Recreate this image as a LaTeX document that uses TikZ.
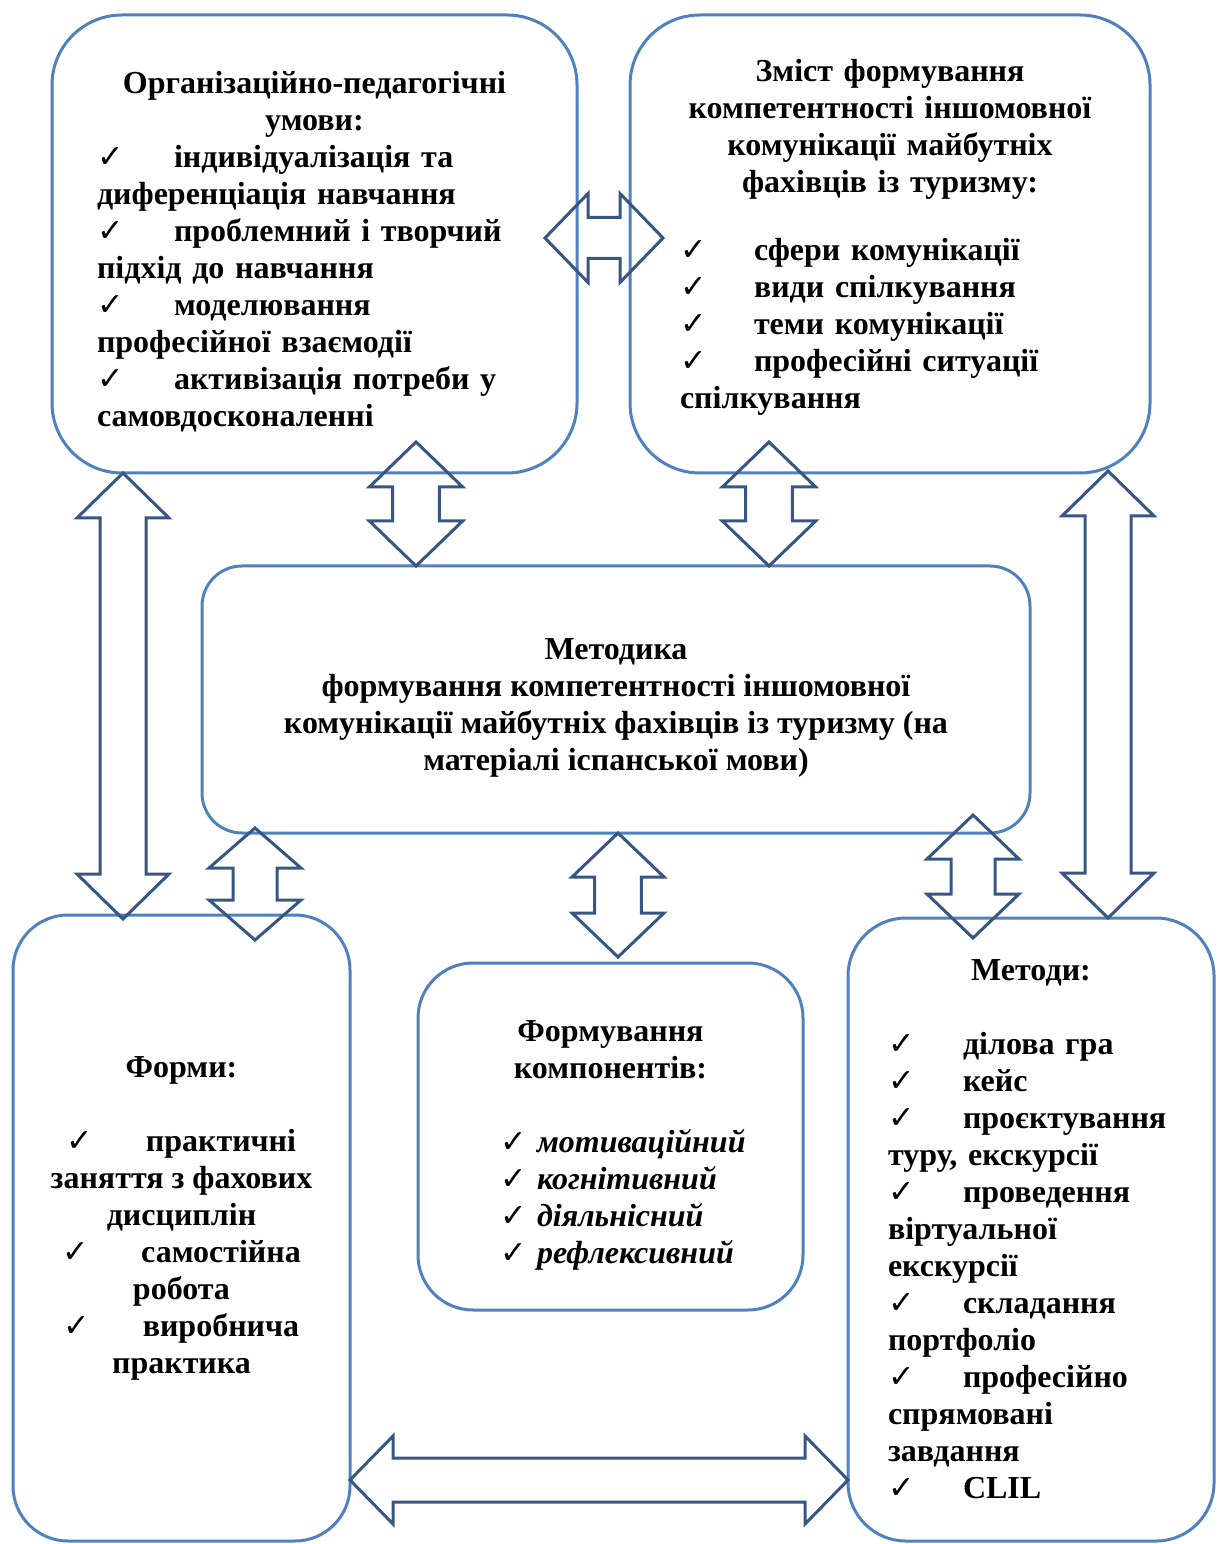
\documentclass[tikz,border=0pt]{standalone}
\usepackage{fontspec}
\setmainfont{Liberation Serif}
\newfontfamily\checkfont{DejaVu Sans}
\usepackage{xcolor}
\usepackage{tikz}
\usetikzlibrary{calc,positioning}

\definecolor{boxblue}{RGB}{79,129,189}
\definecolor{arrowblue}{RGB}{56,86,130}

\newcommand{\chk}[1][22.8pt]{\makebox[#1][l]{\checkfont\fontsize{9.5}{9.5}\selectfont ✓}}
%% hollow double block arrow: from, to, head length, head half width, shaft half width
\newcommand{\dblarrow}[5]{%
  \draw [blockarrow] (#1)
    -- ($(#1)!#3!(#2)!#4!90:(#2)$) -- ($(#1)!#3!(#2)!#5!90:(#2)$)
    -- ($(#2)!#3!(#1)!#5!-90:(#1)$) -- ($(#2)!#3!(#1)!#4!-90:(#1)$)
    -- (#2)
    -- ($(#2)!#3!(#1)!#4!90:(#1)$) -- ($(#2)!#3!(#1)!#5!90:(#1)$)
    -- ($(#1)!#3!(#2)!#5!-90:(#2)$) -- ($(#1)!#3!(#2)!#4!-90:(#2)$)
    -- cycle;}

\begin{document}
\begin{tikzpicture} [x=0.3pt, y=-0.3pt,
       infobox/.style 2 args = {rectangle, minimum width=#1*0.3pt, minimum height=#2*0.3pt,
                                line width=0.9pt, draw=boxblue, fill=white, inner sep=0pt, outer sep=0pt,
                                font=\fontsize{9.6}{11.1}\selectfont\bfseries},
       blockarrow/.style = {draw=arrowblue, line width=0.9pt, line join=miter, sharp corners}]
	\useasboundingbox (0,0) rectangle (1219,1544);
	%% Boxes
	\node [infobox={525}{458}, rounded corners=21pt, text width=130.5pt, align=left] (org) at (314.5,244)
	      {{\centering \rule{0pt}{11.2pt}Організаційно-педагогічні\\умови:\par}
	       \chk[23.1pt]індивідуалізація та\\
	       диференціація навчання\\
	       \chk[23.1pt]проблемний і творчий\\
	       підхід до навчання\\
	       \chk[23.1pt]моделювання\\
	       професійної взаємодії\\
	       \chk[23.1pt]активізація потреби у\\
	       самовдосконаленні};
	\node [infobox={520}{458}, rounded corners=21pt, text width=126pt, align=left,
	       right=15.9pt of org] (content)
	      {{\centering Зміст формування\\компетентності іншомовної\\комунікації майбутніх\\фахівців із туризму:\par}
	       \vspace{9.3pt}
	       \chk[22.2pt]сфери комунікації\\
	       \chk[22.2pt]види спілкування\\
	       \chk[22.2pt]теми комунікації\\
	       \chk[22.2pt]професійні ситуації\\
	       спілкування\rule[-5.8pt]{0pt}{0pt}};
	\node [infobox={828}{267}, rounded corners=12pt, align=center] (method) at (616,699.5)
	      {\rule{0pt}{11.6pt}Методика\\
	       формування компетентності іншомовної\\
	       комунікації майбутніх фахівців із туризму (на\\
	       матеріалі іспанської мови)};
	\node [infobox={337}{626}, rounded corners=16.5pt, align=center] (forms) at (181.5,1228)
	      {Форми:\\[11.1pt]
	       \chk[23.7pt]практичні\\
	       заняття з фахових\\
	       дисциплін\\
	       \chk[23.7pt]самостійна\\
	       робота\\
	       \chk[23.7pt]виробнича\\
	       практика\rule[-7.5pt]{0pt}{0pt}};
	\node [infobox={385}{347}, rounded corners=16.5pt, text width=66.3pt, align=left] (comps) at (610.5,1136.5)
	      {{\centering \rule{0pt}{11.8pt}Формування\\компонентів:\par}
	       \vspace{11.1pt}
	       \chk[11.1pt]\textit{мотиваційний}\\
	       \chk[11.1pt]\textit{когнітивний}\\
	       \chk[11.1pt]\textit{діяльнісний}\\
	       \chk[11.1pt]\textit{рефлексивний}};
	\node [infobox={366}{623}, rounded corners=17.4pt, text width=85.8pt, align=left] (methods) at (1031,1229.5)
	      {{\centering Методи:\par}
	       \vspace{11.1pt}
	       \chk[22.5pt]ділова гра\\
	       \chk[22.5pt]кейс\\
	       \chk[22.5pt]проєктування\\
	       туру, екскурсії\\
	       \chk[22.5pt]проведення\\
	       віртуальної\\
	       екскурсії\\
	       \chk[22.5pt]складання\\
	       портфоліо\\
	       \chk[22.5pt]професійно\\
	       спрямовані\\
	       завдання\\
	       \chk[22.5pt]CLIL};
	%% Arrow ends
	\coordinate (orgR)     at ($(org.east)+(-32,-6)$);
	\coordinate (contL)    at ($(content.west)+(33,-6)$);
	\coordinate (orgS)     at ($(org.south)+(101.5,-31)$);
	\coordinate (methN1)   at ($(method.north)+(-200,0)$);
	\coordinate (contS)    at ($(content.south)+(-121,-31)$);
	\coordinate (methN2)   at ($(method.north)+(153,0)$);
	\coordinate (orgSW)    at ($(org.south west)+(71,0)$);
	\coordinate (formsN1)  at ($(forms.north)+(-58.5,4)$);
	\coordinate (contSE)   at ($(content.south east)+(-42,-2)$);
	\coordinate (methodsN1) at ($(methods.north)+(77,0)$);
	\coordinate (methS1)   at ($(method.south)+(-361,-5)$);
	\coordinate (formsN2)  at ($(forms.north)+(73.5,25)$);
	\coordinate (methS2)   at ($(method.south)+(2,0)$);
	\coordinate (compsN)   at ($(comps.north)+(7.5,-6)$);
	\coordinate (methS3)   at ($(method.south)+(357,-18)$);
	\coordinate (methodsN2) at ($(methods.north)+(-58,20)$);
	\coordinate (formsE)   at ($(forms.east)+(0,252)$);
	\coordinate (methodsW) at ($(methods.west)+(0,250.5)$);
	%% Arrows
	\dblarrow{orgR}{contL}{12.9pt}{13.35pt}{6.15pt}
	\dblarrow{orgS}{methN1}{13.5pt}{14pt}{7pt}
	\dblarrow{contS}{methN2}{13.5pt}{14pt}{7pt}
	\dblarrow{orgSW}{formsN1}{13.5pt}{13.8pt}{6.9pt}
	\dblarrow{contSE}{methodsN1}{13.5pt}{13.8pt}{6.9pt}
	\dblarrow{methS1}{formsN2}{12pt}{13.8pt}{6.6pt}
	\dblarrow{methS2}{compsN}{13.2pt}{13.8pt}{7pt}
	\dblarrow{methS3}{methodsN2}{13.2pt}{13.8pt}{6.6pt}
	\dblarrow{formsE}{methodsW}{12.9pt}{13.2pt}{6.6pt}
\end{tikzpicture}
\end{document}
